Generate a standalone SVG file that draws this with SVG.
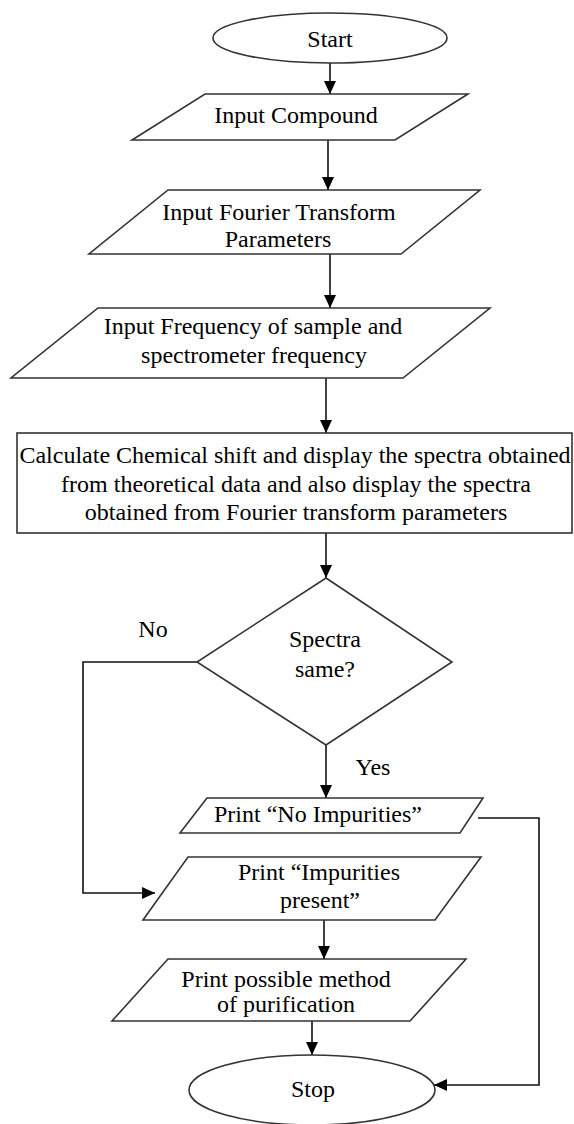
<svg xmlns="http://www.w3.org/2000/svg" width="574" height="1124" viewBox="0 0 574 1124">
<defs>
<style>
.shape{fill:#ffffff;stroke:#333333;stroke-width:1.6}
.t{font-family:"Liberation Serif","Times New Roman",serif;font-size:24px;fill:#000000;text-anchor:middle}
.c{fill:none;stroke:#111111;stroke-width:1.6}
</style>
<marker id="ah" markerUnits="userSpaceOnUse" markerWidth="14" markerHeight="14" viewBox="0 0 14 14" refX="13" refY="7" orient="auto">
<path d="M0,1 L13,7 L0,13 Z" fill="#000000"/>
</marker>
</defs>
<rect width="574" height="1124" fill="#ffffff"/>
<g id="connectors">
<line class="c" x1="330" y1="63" x2="330" y2="94" marker-end="url(#ah)"/>
<line class="c" x1="328" y1="140" x2="328" y2="190" marker-end="url(#ah)"/>
<line class="c" x1="330" y1="254" x2="330" y2="308" marker-end="url(#ah)"/>
<line class="c" x1="326" y1="378" x2="326" y2="433" marker-end="url(#ah)"/>
<line class="c" x1="326" y1="533" x2="326" y2="578" marker-end="url(#ah)"/>
<polyline class="c" points="197,662 83,662 83,893 155,893" marker-end="url(#ah)"/>
<line class="c" x1="326" y1="745" x2="326" y2="798" marker-end="url(#ah)"/>
<polyline class="c" points="478,818 539,818 539,1085 434,1085" marker-end="url(#ah)"/>
<line class="c" x1="324" y1="920" x2="324" y2="959" marker-end="url(#ah)"/>
<line class="c" x1="312" y1="1021" x2="312" y2="1055" marker-end="url(#ah)"/>
</g>
<g id="start">
<ellipse class="shape" cx="330" cy="38" rx="117" ry="25"/>
<text class="t" x="330" y="47">Start</text>
</g>
<g id="input-compound">
<polygon class="shape" points="205,94 468,94 395,140 132,140"/>
<text class="t" x="296" y="123">Input Compound</text>
</g>
<g id="input-fourier">
<polygon class="shape" points="168,190 480,190 401,254 89,254"/>
<text class="t" x="279" y="220">Input Fourier Transform</text>
<text class="t" x="278" y="247">Parameters</text>
</g>
<g id="input-frequency">
<polygon class="shape" points="98,308 490,308 403,378 11,378"/>
<text class="t" x="253" y="334">Input Frequency of sample and</text>
<text class="t" x="254" y="363">spectrometer frequency</text>
</g>
<g id="calculate">
<rect class="shape" x="17" y="433" width="555" height="100"/>
<text class="t" x="295" y="463">Calculate Chemical shift and display the spectra obtained</text>
<text class="t" x="296" y="492">from theoretical data and also display the spectra</text>
<text class="t" x="296" y="520">obtained from Fourier transform parameters</text>
</g>
<g id="decision">
<polygon class="shape" points="326,578 452,662 326,745 197,662"/>
<text class="t" x="325" y="647">Spectra</text>
<text class="t" x="325" y="677">same?</text>
</g>
<g id="label-no">
<text class="t" x="153" y="637">No</text>
</g>
<g id="label-yes">
<text class="t" x="373" y="775">Yes</text>
</g>
<g id="print-no-impurities">
<polygon class="shape" points="207,798 483,798 460,833 180,833"/>
<text class="t" x="318" y="822">Print “No Impurities”</text>
</g>
<g id="print-impurities-present">
<polygon class="shape" points="188,857 481,857 435,920 143,920"/>
<text class="t" x="319" y="880">Print “Impurities</text>
<text class="t" x="320" y="908">present”</text>
</g>
<g id="print-method">
<polygon class="shape" points="168,959 466,959 410,1021 112,1021"/>
<text class="t" x="286" y="987">Print possible method</text>
<text class="t" x="286" y="1012">of purification</text>
</g>
<g id="stop">
<ellipse class="shape" cx="312" cy="1090" rx="123" ry="35"/>
<text class="t" x="313" y="1097">Stop</text>
</g>
</svg>
